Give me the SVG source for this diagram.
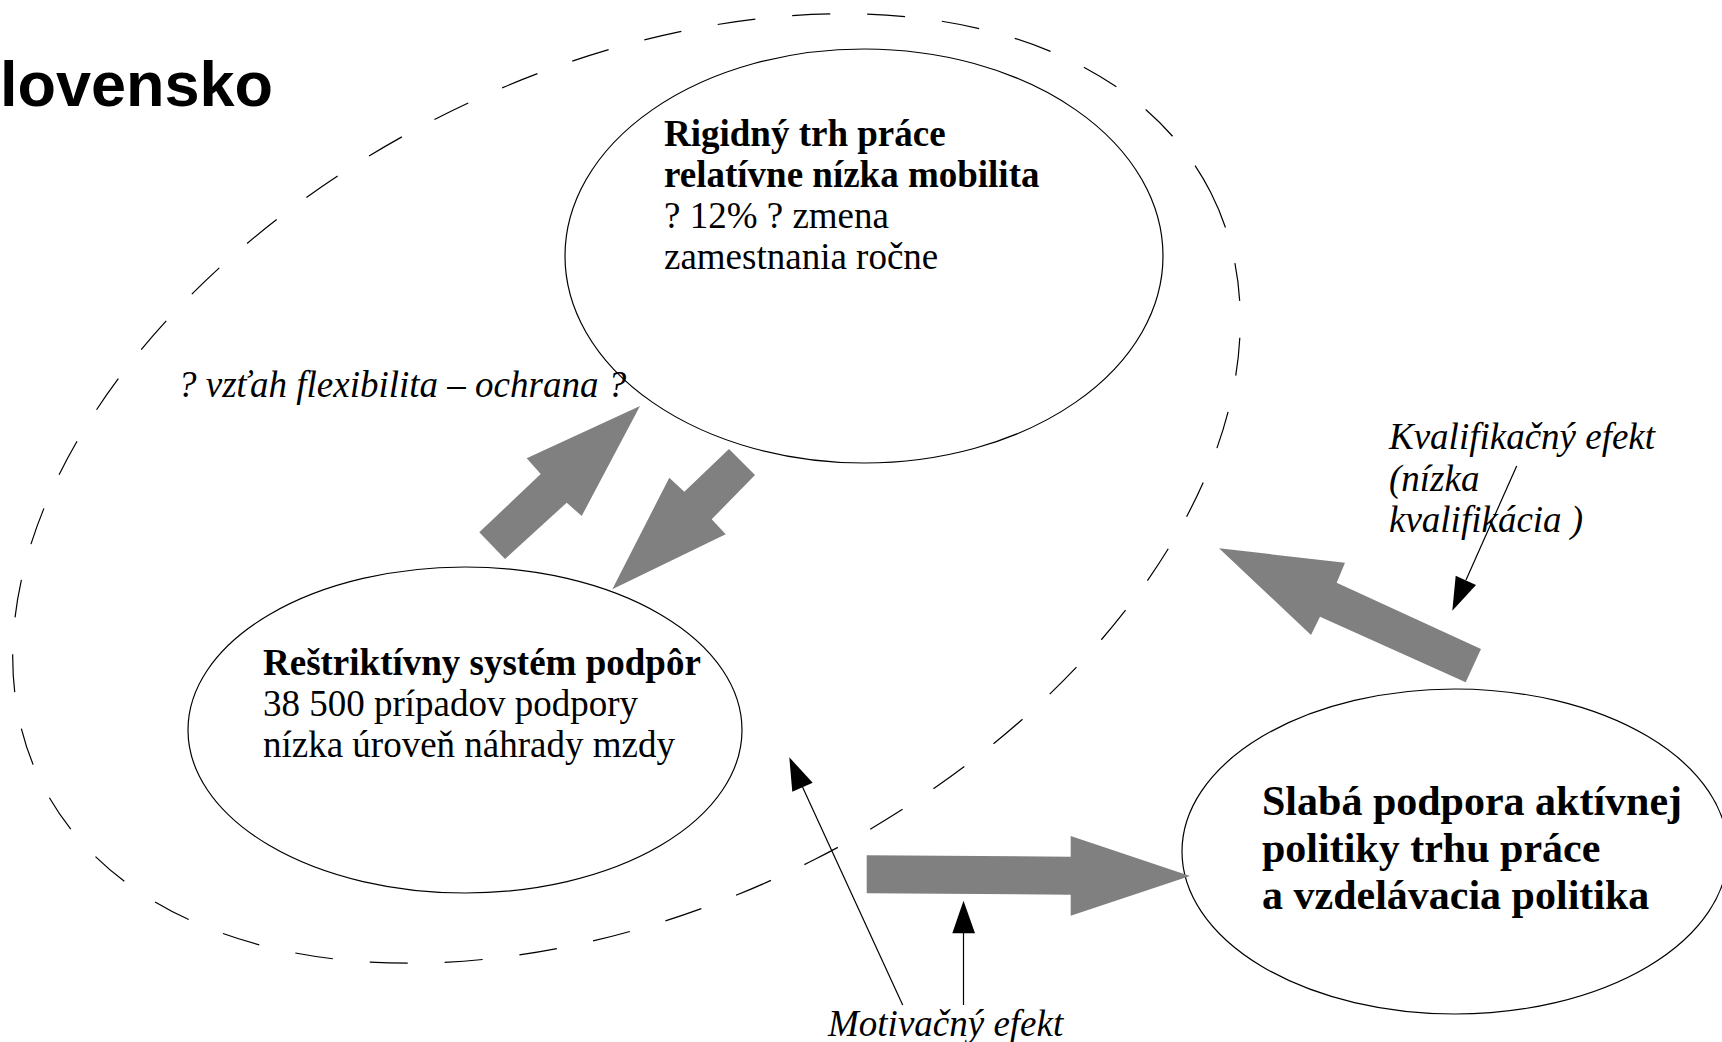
<svg xmlns="http://www.w3.org/2000/svg" width="1722" height="1042" viewBox="0 0 1722 1042">
<style>
.node{fill:#ffffff;stroke:#000000;stroke-width:1.2}
.dash{fill:none;stroke:#000000;stroke-width:1.2;stroke-dasharray:38 37}
.block{fill:#808080;stroke:none}
.thin{stroke:#000000;stroke-width:1.2;fill:none}
.head{fill:#000000;stroke:none}
.serif{font-family:"Liberation Serif","Times New Roman",serif;font-size:37px;fill:#000000}
.b{font-weight:bold}
.i{font-style:italic}
.title{font-family:"Liberation Sans",Arial,sans-serif;font-size:63px;font-weight:bold;fill:#000000}
</style>
<rect x="0" y="0" width="1722" height="1042" fill="#ffffff"/>
<text class="title" x="0" y="106">lovensko</text>
<g id="group-boundary">
<ellipse class="dash" cx="626.5" cy="488.5" rx="655" ry="416" transform="rotate(-26.87 626.5 488.5)"/>
</g>
<g id="node-rigid">
<ellipse class="node" cx="864" cy="256" rx="299" ry="207"/>
<text class="serif" x="664">
<tspan class="b" x="664" y="145.5">Rigidný trh práce</tspan>
<tspan class="b" x="664" y="186.5">relatívne nízka mobilita</tspan>
<tspan x="664" y="227.5">? 12% ? zmena</tspan>
<tspan x="664" y="268.5">zamestnania ročne</tspan>
</text>
</g>
<g id="node-restrictive">
<ellipse class="node" cx="465" cy="730" rx="277" ry="163"/>
<text class="serif" x="263">
<tspan class="b" x="263" y="675">Reštriktívny systém podpôr</tspan>
<tspan x="263" y="716">38 500 prípadov podpory</tspan>
<tspan x="263" y="757">nízka úroveň náhrady mzdy</tspan>
</text>
</g>
<g id="node-weak">
<ellipse class="node" cx="1455" cy="851.5" rx="273" ry="162.5"/>
<text class="serif b" style="font-size:42px" x="1262">
<tspan x="1262" y="814.5">Slabá podpora aktívnej</tspan>
<tspan x="1262" y="861.5">politiky trhu práce</tspan>
<tspan x="1262" y="908.5">a vzdelávacia politika</tspan>
</text>
</g>
<g id="connectors">
<polygon class="block" points="640,406 526.7,458.3 540.7,474 479.3,532.3 505,559 566.7,502.7 581.7,516"/>
<polygon class="block" points="729,449 755,475 711.7,519.3 725.7,534.3 612.3,589.3 669.3,477.7 684.3,491.7"/>
<polygon class="block" points="1219,548.3 1345,562.7 1336.7,582.7 1481,649 1465.7,682.3 1320,616.7 1311,635"/>
<polygon class="block" points="866.7,855.3 1070.7,856.7 1070.7,836 1190,876 1070.7,915.7 1070.7,894.7 866.7,893.3"/>
<line class="thin" x1="1516.7" y1="466" x2="1466" y2="580"/>
<polygon class="head" points="1452.3,610.7 1455.7,575.7 1476,585"/>
<line class="thin" x1="902.7" y1="1005" x2="802.5" y2="787"/>
<polygon class="head" points="789.3,757.3 792.3,791.7 812.7,782.7"/>
<line class="thin" x1="963.5" y1="1005" x2="963.5" y2="933"/>
<polygon class="head" points="963.5,900.7 952.3,933.3 975,933.3"/>
</g>
<g id="labels">
<text class="serif i" x="178" y="397">? vzťah flexibilita – ochrana ?</text>
<text class="serif i" x="1389">
<tspan x="1389" y="449">Kvalifikačný efekt</tspan>
<tspan x="1389" y="490.5">(nízka</tspan>
<tspan x="1389" y="532">kvalifikácia )</tspan>
</text>
<text class="serif i" x="828" y="1036">Motivačný efekt</text>
</g>
</svg>
